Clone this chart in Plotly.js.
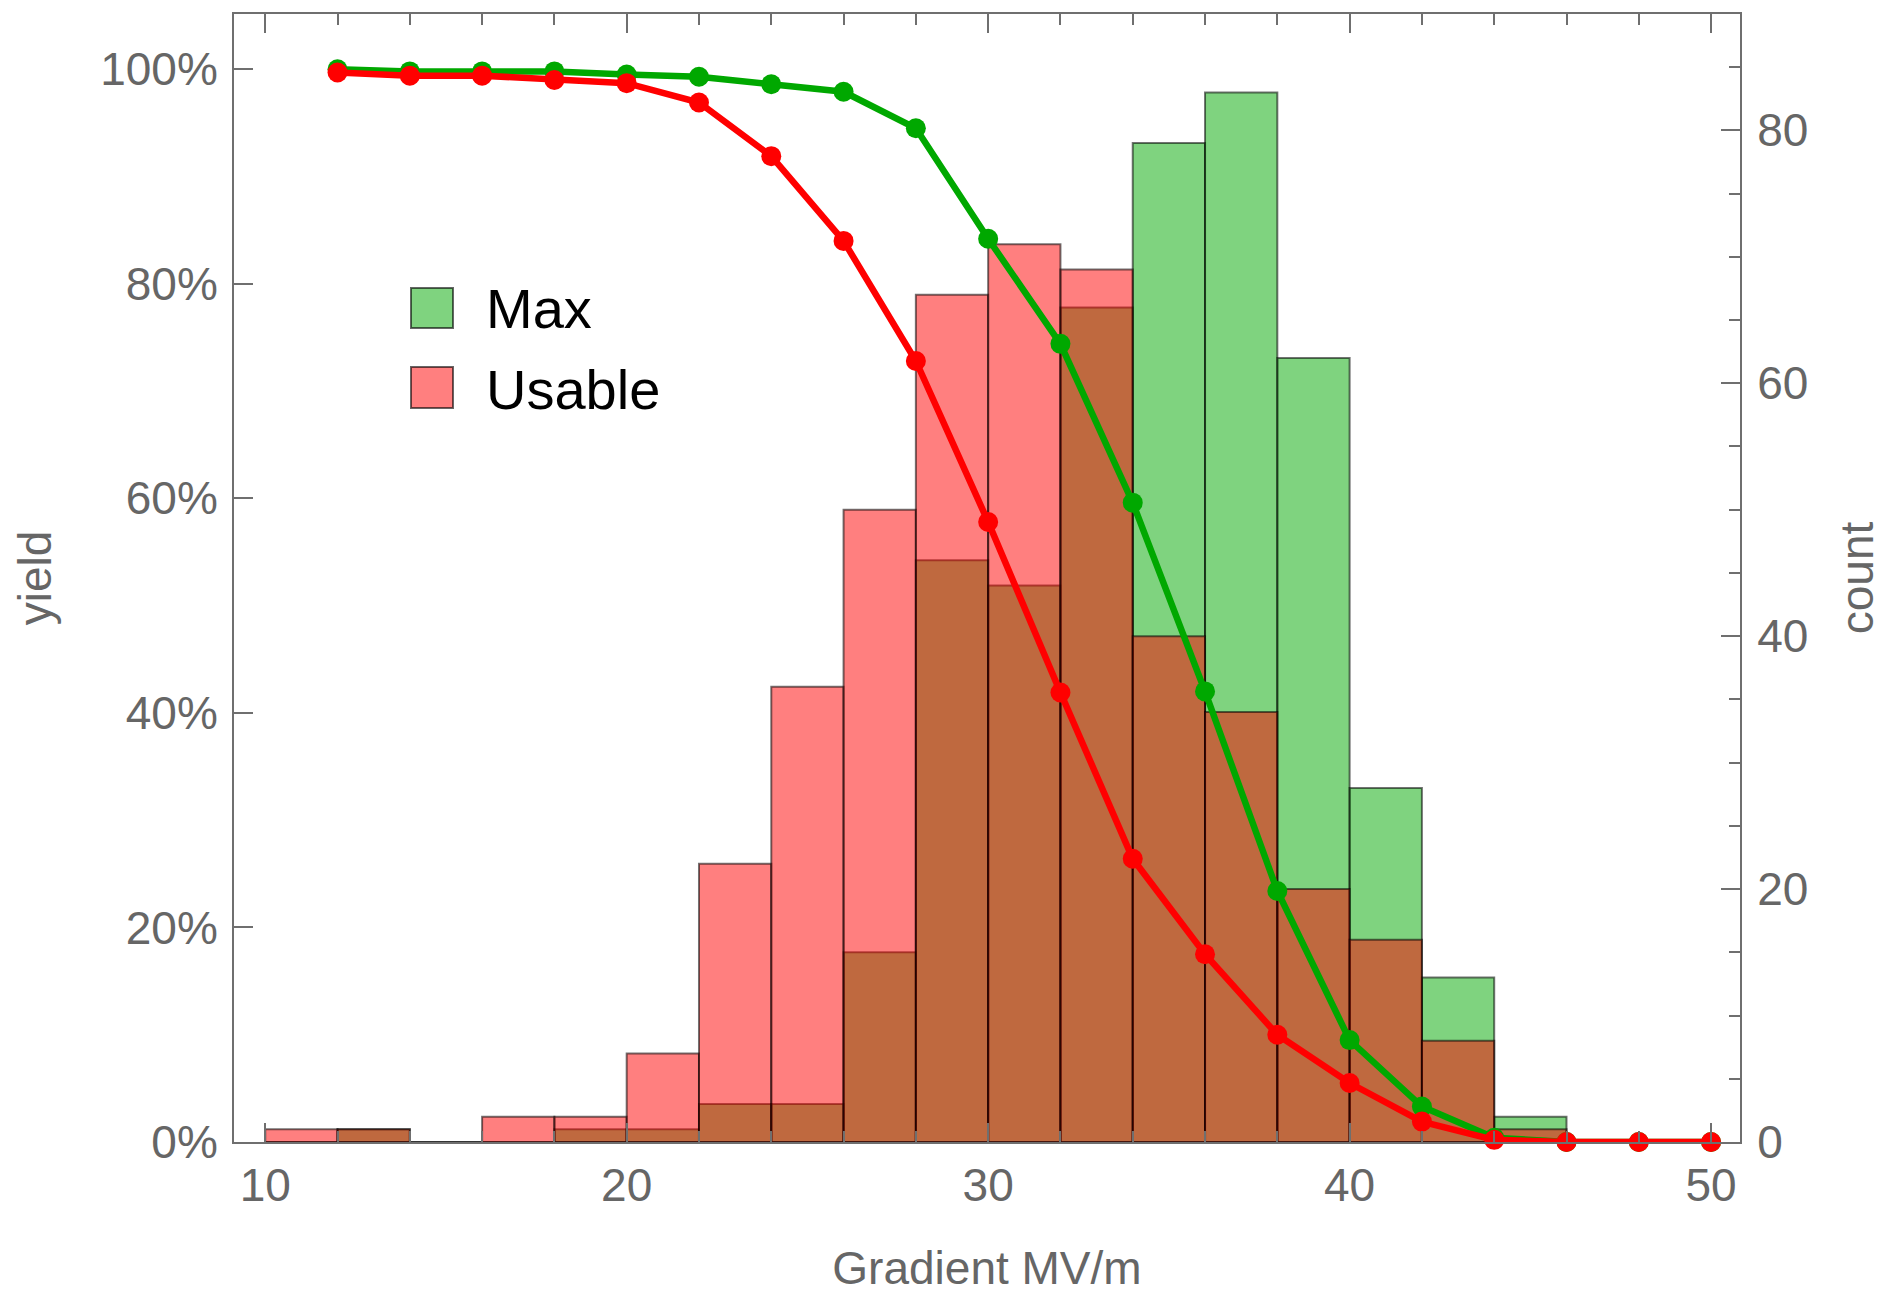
<!DOCTYPE html>
<html>
<head>
<meta charset="utf-8">
<script src="https://cdn.plot.ly/plotly-3.0.1.min.js"></script>
<style>html,body{margin:0;padding:0;background:#fff;}#chart{width:1883px;height:1294px;}</style>
</head>
<body>
<div id="chart"></div>
<script>
// Histogram bins (2 MV/m wide), centers
const binCenters = [11,13,15,17,19,21,23,25,27,29,31,33,35,37,39,41,43,45];
const maxCounts    = [0,1,0,0,1,1,3,3,15,46,44,66,79,83,62,28,13,2];
const usableCounts = [1,1,0,2,2,7,22,36,50,67,71,69,40,34,20,16,8,1];

// Yield curves (% of cavities reaching at least the gradient)
const yieldX      = [12,14,16,18,20,22,24,26,28,30,32,34,36,38,40,42,44,46,48,50];
const maxYield    = [100,99.8,99.8,99.8,99.5,99.3,98.6,97.9,94.5,84.2,74.4,59.6,42.0,23.4,9.5,3.3,0.4,0,0,0];
const usableYield = [99.7,99.4,99.4,99.0,98.7,96.9,91.9,84.0,72.8,57.8,41.9,26.4,17.5,10.0,5.5,1.9,0.2,0,0,0];

const seriesNames = ['Max','Usable'];

const GREEN = 'rgb(0,168,0)';
const RED = 'rgb(255,0,0)';
const GREEN_FILL = 'rgba(0,168,0,0.5)';
const RED_FILL = 'rgba(255,0,0,0.5)';
const AXC = '#6f6f6f';
const TXC = '#666666';
const FONT = '"Liberation Sans", Arial, Helvetica, sans-serif';

const traces = [
  {type:'bar', x:binCenters, y:maxCounts, width:2, name:seriesNames[0], yaxis:'y', xaxis:'x',
   marker:{color:GREEN_FILL, line:{color:'rgba(0,0,0,0.55)', width:2}}, showlegend:false, hoverinfo:'x+y'},
  {type:'bar', x:binCenters, y:usableCounts, width:2, name:seriesNames[1], yaxis:'y', xaxis:'x',
   marker:{color:RED_FILL, line:{color:'rgba(0,0,0,0.55)', width:2}}, showlegend:false, hoverinfo:'x+y'},
  {type:'scatter', mode:'lines+markers', x:yieldX, y:maxYield, yaxis:'y2', xaxis:'x', name:seriesNames[0]+' yield',
   line:{color:GREEN, width:6.5}, marker:{color:GREEN, size:20}, showlegend:false, cliponaxis:false},
  {type:'scatter', mode:'lines+markers', x:yieldX, y:usableYield, yaxis:'y2', xaxis:'x', name:seriesNames[1]+' yield',
   line:{color:RED, width:6.5}, marker:{color:RED, size:20}, showlegend:false, cliponaxis:false}
];

const L = 234, R = 143, T = 14, B = 152;
const W = 1883 - L - R, H = 1294 - T - B;
function px(x){ return (x - L) / W; }
function py(y){ return (1294 - B - y) / H; }

const layout = {
  width:1883, height:1294,
  margin:{l:L, r:R, t:T, b:B, pad:0},
  paper_bgcolor:'#fff', plot_bgcolor:'#fff',
  barmode:'overlay', bargap:0,
  showlegend:false,
  font:{family:FONT, color:TXC, size:46},
  xaxis:{
    range:[9.136, 50.8], tick0:10, dtick:10,
    showline:true, linecolor:AXC, linewidth:2, mirror:'ticks',
    ticks:'inside', ticklen:19, tickwidth:2, tickcolor:AXC,
    minor:{dtick:2, tick0:10, ticks:'inside', ticklen:11, tickwidth:2, tickcolor:AXC},
    showgrid:false, zeroline:false,
    tickfont:{size:46, color:TXC, family:FONT}, ticklabelstandoff:2,
    title:{text:'Gradient MV/m', font:{size:46, color:TXC, family:FONT}, standoff:46}
  },
  yaxis:{
    range:[0, 89.2], side:'right', tick0:0, dtick:20,
    showline:true, linecolor:AXC, linewidth:2,
    ticks:'inside', ticklen:19, tickwidth:2, tickcolor:AXC,
    minor:{dtick:5, tick0:0, ticks:'inside', ticklen:11, tickwidth:2, tickcolor:AXC},
    showgrid:false, zeroline:false,
    tickfont:{size:46, color:TXC, family:FONT}, ticklabelstandoff:6,
    title:{text:'count', font:{size:46, color:TXC, family:FONT}, standoff:48}
  },
  yaxis2:{
    range:[0, 105.15], side:'left', overlaying:'y', tick0:0, dtick:20, ticksuffix:'%',
    showline:true, linecolor:AXC, linewidth:2,
    ticks:'inside', ticklen:19, tickwidth:2, tickcolor:AXC,
    showgrid:false, zeroline:false,
    tickfont:{size:46, color:TXC, family:FONT}, ticklabelstandoff:5,
    title:{text:'yield', font:{size:46, color:TXC, family:FONT}, standoff:34}
  },
  shapes:[
    {type:'rect', xref:'paper', yref:'paper', x0:px(411), x1:px(453), y0:py(328), y1:py(288),
     fillcolor:GREEN_FILL, line:{color:'rgba(0,0,0,0.6)', width:2}},
    {type:'rect', xref:'paper', yref:'paper', x0:px(411), x1:px(453), y0:py(408), y1:py(367),
     fillcolor:RED_FILL, line:{color:'rgba(0,0,0,0.6)', width:2}}
  ],
  annotations:[
    {xref:'paper', yref:'paper', x:px(484), y:py(309), xanchor:'left', yanchor:'middle', showarrow:false,
     text:seriesNames[0], font:{size:56, color:'#000', family:FONT}},
    {xref:'paper', yref:'paper', x:px(484), y:py(389), xanchor:'left', yanchor:'middle', showarrow:false,
     text:seriesNames[1], font:{size:56, color:'#000', family:FONT}}
  ]
};

Plotly.newPlot('chart', traces, layout, {displayModeBar:false, staticPlot:true});
</script>
</body>
</html>
